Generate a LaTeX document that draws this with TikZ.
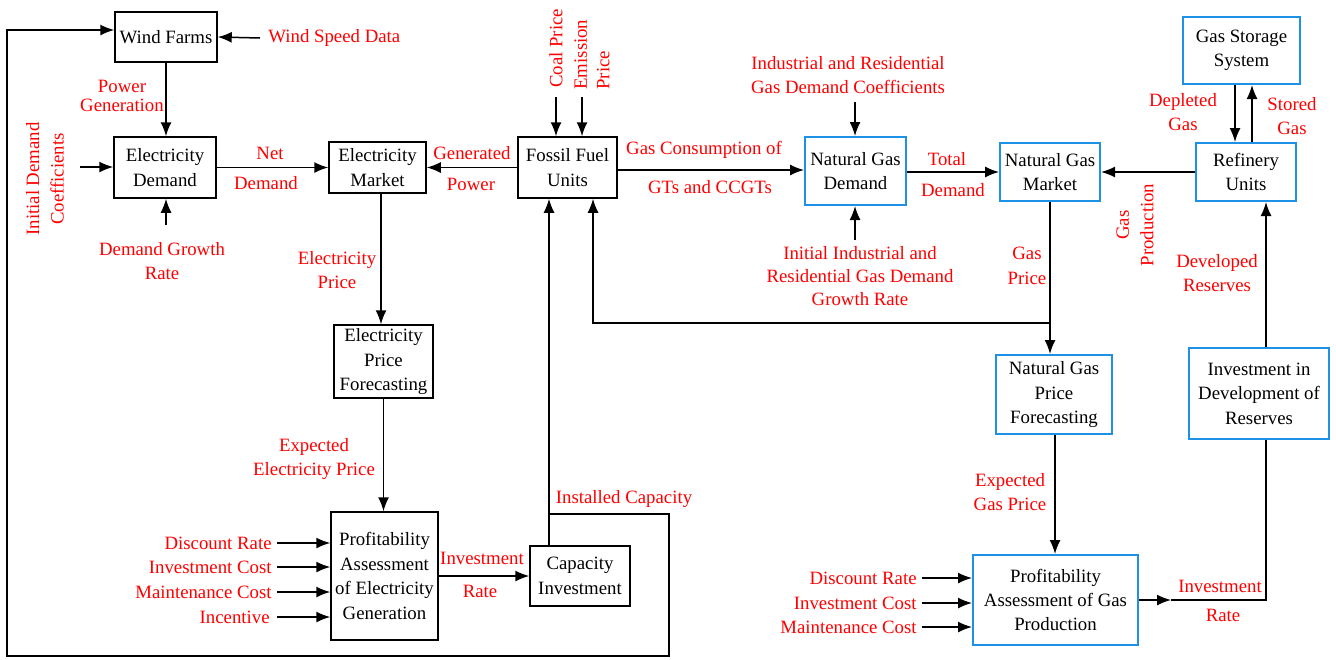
\documentclass[tikz,border=0pt]{standalone}
\usepackage{fontspec}
\setmainfont{Liberation Serif}
\usetikzlibrary{arrows.meta,calc}
\definecolor{boxblue}{RGB}{30,144,230}
\newcommand\dfont{\fontsize{9.4}{12.2}\selectfont}
\newcommand\sfontA{\fontsize{9.4}{9.2}\selectfont}
\newcommand\mfontA{\fontsize{9.4}{11.3}\selectfont}
\begin{document}
\begin{tikzpicture}[x=0.5pt,y=-0.5pt,
  bx/.style={draw, line width=0.75pt, align=center, inner sep=0pt, font=\dfont},
  bb/.style={bx, draw=boxblue, line width=1pt},
  lb/.style={text=red, align=center, inner sep=0pt, font=\dfont},
  arr/.style={line width=0.75pt, -{Latex[length=7pt,width=5.5pt]}},
  ln/.style={line width=0.75pt}]
\useasboundingbox (0,0) rectangle (1336,659);
% boxes
\node[bx,minimum width=51pt,minimum height=25pt] (WF) at (166,37) {Wind Farms};
\node[bx,minimum width=51pt,minimum height=30.5pt] (ED) at (165,167.5) {Electricity\\Demand};
\node[bx,minimum width=48.5pt,minimum height=25.5pt] (EM) at (377.5,167.5) {Electricity\\Market};
\node[bx,minimum width=49.5pt,minimum height=30.5pt] (FF) at (567.5,167.5) {Fossil Fuel\\Units};
\node[bx,minimum width=49.5pt,minimum height=36.5pt] (EPF) at (383.5,361.5) {Electricity\\Price\\Forecasting};
\node[bx,minimum width=53.5pt,minimum height=64pt] (PAE) at (384.5,576) {Profitability\\Assessment\\of Electricity\\Generation};
\node[bx,minimum width=50pt,minimum height=30pt] (CI) at (580,576) {Capacity\\Investment};
\node[bb,minimum width=50.5pt,minimum height=34pt] (NGD) at (855.5,171) {Natural Gas\\Demand};
\node[bb,minimum width=50pt,minimum height=29pt] (NGM) at (1050,172) {Natural Gas\\Market};
\node[bb,minimum width=50pt,minimum height=29pt] (RU) at (1246,172) {Refinery\\Units};
\node[bb,minimum width=58.5pt,minimum height=33.5pt] (GSS) at (1241.5,50.5) {Gas Storage\\System};
\node[bb,minimum width=58pt,minimum height=39.5pt] (NGPF) at (1054,394.5) {Natural Gas\\Price\\Forecasting};
\node[bb,minimum width=70pt,minimum height=45.5pt] (IDR) at (1259,393.5) {Investment in\\Development of\\Reserves};
\node[bb,minimum width=82.5pt,minimum height=45pt] (PAG) at (1055.5,600) {Profitability\\Assessment of Gas\\Production};

% wind farms
\node[lb,anchor=west] (wsd) at (268,38) {Wind Speed Data};
\draw[arr] ([xshift=-4pt]wsd.west) -- (WF.east);
\draw[arr] (WF.south) -- (WF.south |- ED.north);
\node[lb,font=\sfontA] (pg) at (122,96) {Power\\Generation};

% electricity demand inputs
\node[lb,rotate=90] (idc) at (45,179) {Initial Demand\\Coefficients};
\coordinate (idcA) at (80,167);
\draw[arr] (idcA) -- (ED.west |- idcA);
\node[lb] (dgr) at (162,261) {Demand Growth\\Rate};
\coordinate (dgrA) at (166,225);
\draw[arr] (dgrA) -- (dgrA |- ED.south);

% ED -> EM
\draw[arr] (ED.east) -- (EM.west);
\node[lb] at (270,153) {Net};
\node[lb] at (266,183) {Demand};
% FF -> EM
\draw[arr] (FF.west) -- (EM.east);
\node[lb] at (472,153) {Generated};
\node[lb] at (471,184) {Power};

% coal and emission
\node[lb,rotate=90] (cp) at (556,48.5) {Coal Price};
\coordinate (cpA) at (556,97);
\draw[arr] (cpA) -- (cpA |- FF.north);
\node[lb,rotate=90,align=left,anchor=north west,font=\mfontA] (ep) at (574,90) {Emission\\Price};
\coordinate (epA) at (582,97);
\draw[arr] (epA) -- (epA |- FF.north);

% FF -> NGD
\coordinate (gcy) at (0,170);
\draw[arr] (FF.east |- gcy) -- (NGD.west |- gcy);
\node[lb] at (704,150) {Gas Consumption of};
\node[lb] at (710,187) {GTs and CCGTs};

% NGD inputs
\node[lb] (irc) at (848,75) {Industrial and Residential\\Gas Demand Coefficients};
\coordinate (ircA) at (855,102);
\draw[arr] (ircA) -- (ircA |- NGD.north);
\node[lb,font=\mfontA] (iir) at (860,276) {Initial Industrial and\\Residential Gas Demand\\Growth Rate};
\coordinate (iirA) at (855,240);
\draw[arr] (iirA) -- (iirA |- NGD.south);

% NGD -> NGM
\draw[arr] (NGD.east |- NGM.west) -- (NGM.west);
\node[lb] at (947,159) {Total};
\node[lb] at (953,190) {Demand};
% RU -> NGM
\draw[arr] (RU.west) -- (NGM.east);
\node[lb,rotate=90] at (1135,225) {Gas\\Production};

% storage
\coordinate (gsA) at (1235,0);
\coordinate (gsB) at (1252,0);
\draw[arr] (gsA |- GSS.south) -- (gsA |- RU.north);
\draw[arr] (gsB |- RU.north) -- (gsB |- GSS.south);
\node[lb] at (1183,112) {Depleted\\Gas};
\node[lb] at (1292,116) {Stored\\Gas};

% NGM -> NGPF and branch to FF
\draw[arr] (NGM.south) -- (NGM.south |- NGPF.north);
\node[lb] at (1027,266) {Gas\\Price};
\coordinate (brY) at (0,323);
\coordinate (gpx) at (593,0);
\draw[arr] (NGM.south |- brY) -| (gpx |- FF.south);

% NGPF -> PAG
\coordinate (egx) at (1055,0);
\draw[arr] (egx |- NGPF.south) -- (egx |- PAG.north);
\node[lb] at (1010,492) {Expected\\Gas Price};

% PAG inputs
\node[lb,anchor=east] (g1) at (917,578) {Discount Rate};
\node[lb,anchor=east] (g2) at (917,603) {Investment Cost};
\node[lb,anchor=east] (g3) at (917,627) {Maintenance Cost};
\foreach \n in {g1,g2,g3}
  \draw[arr] ([xshift=2.5pt]\n.east) -- (PAG.west |- \n.east);

% PAG -> IDR -> RU
\coordinate (irx) at (1266,0);
\coordinate (pm) at (1171,0);
\draw[arr] (PAG.east) -- (pm |- PAG.east);
\draw[ln] (pm |- PAG.east) -| (irx |- IDR.south);
\node[lb] at (1220,586) {Investment};
\node[lb] at (1223,615) {Rate};
\draw[arr] (irx |- IDR.north) -- (irx |- RU.south);
\node[lb] at (1217,273) {Developed\\Reserves};

% EM -> EPF -> PAE
\coordinate (emx) at (381,0);
\draw[arr] (emx |- EM.south) -- (emx |- EPF.north);
\node[lb] at (337,270) {Electricity\\Price};
\draw[arr] (EPF.south) -- (EPF.south |- PAE.north);
\node[lb] at (314,459) {Expected\\Electricity Price};

% PAE inputs
\node[lb,anchor=east] (e1) at (272,543) {Discount Rate};
\node[lb,anchor=east] (e2) at (272,567) {Investment Cost};
\node[lb,anchor=east] (e3) at (272,592) {Maintenance Cost};
\node[lb,anchor=east] (e4) at (270,617) {Incentive};
\foreach \n in {e1,e2,e3}
  \draw[arr] ([xshift=2.5pt]\n.east) -- (PAE.west |- \n.east);
\draw[arr] ([xshift=3.5pt]e4.east) -- (PAE.west |- e4.east);

% PAE -> CI
\draw[arr] (PAE.east) -- (CI.west);
\node[lb] at (482,558) {Investment};
\node[lb] at (480,591) {Rate};

% CI -> FF and loop to wind farms
\coordinate (cix) at (549,0);
\draw[arr] (cix |- CI.north) -- (cix |- FF.south);
\coordinate (L1) at (549,514);
\coordinate (L2) at (669,514);
\coordinate (L3) at (669,656);
\coordinate (L4) at (7,656);
\coordinate (L5) at (7,30);
\draw[arr] (L1) -- (L2) -- (L3) -- (L4) -- (L5) -- (L5 -| WF.west);
\node[lb] at (624,499) {Installed Capacity};
\end{tikzpicture}
\end{document}
